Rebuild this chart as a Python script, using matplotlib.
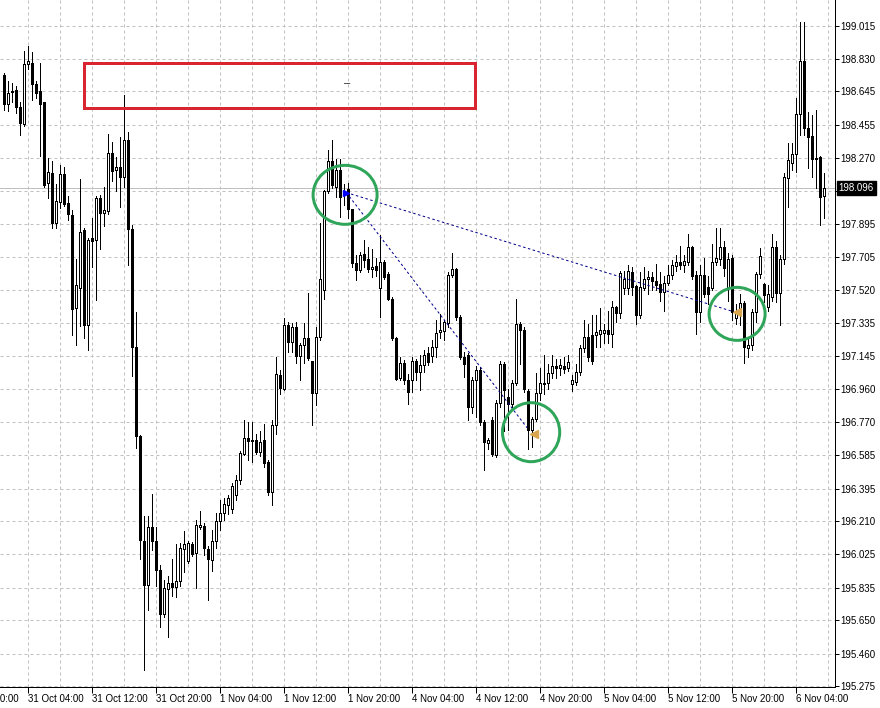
import matplotlib
matplotlib.use("Agg")
import matplotlib.pyplot as plt
import matplotlib.transforms as mtransforms
from matplotlib.patches import Ellipse, Rectangle

plt.rcParams['font.family'] = ['Liberation Sans', 'DejaVu Sans']

# ---------------- data (M30 candles, index 0 = 31 Oct 01:00) ----------------
opens = [198.737, 198.571, 198.649, 198.652, 198.557, 198.460, 198.802, 198.807, 198.684, 198.645,
         198.582, 198.124, 198.182, 197.900, 198.020, 198.175, 198.013, 197.946, 197.418, 197.534,
         197.858, 197.321, 197.812, 197.805, 198.043, 197.958, 197.967, 198.298, 198.201, 198.217,
         198.159, 198.367, 197.865, 197.199, 196.694, 196.099, 195.852, 196.176, 196.099, 195.933,
         195.683, 195.829, 195.861, 195.838, 195.875, 196.053, 195.984, 196.083, 196.030, 196.180,
         196.185, 196.053, 195.990, 196.100, 196.210, 196.260, 196.300, 196.280, 196.358, 196.446,
         196.590, 196.684, 196.673, 196.669, 196.600, 196.669, 196.546, 196.377, 196.754, 197.041,
         196.962, 197.321, 197.223, 197.308, 197.147, 197.211, 197.251, 197.117, 196.937, 197.255,
         197.520, 198.080, 198.252, 198.101, 198.199, 198.080, 198.091, 197.978, 197.671, 197.633,
         197.723, 197.693, 197.638, 197.655, 197.529, 197.676, 197.610, 197.472, 197.246, 197.024,
         197.109, 197.013, 197.009, 197.119, 197.057, 197.095, 197.161, 197.146, 197.199, 197.284,
         197.289, 197.334, 197.605, 197.637, 197.369, 197.142, 197.151, 196.859, 197.013, 197.066,
         196.774, 196.655, 196.783, 196.585, 196.881, 197.100, 196.915, 196.877, 196.995, 197.327,
         197.293, 196.949, 196.726, 196.792, 196.938, 196.987, 196.991, 197.052, 197.089, 197.081,
         197.089, 197.076, 196.987, 197.000, 197.057, 197.189, 197.255, 197.265, 197.265, 197.270,
         197.274, 197.293, 197.270, 197.425, 197.390, 197.529, 197.529, 197.623, 197.542, 197.378,
         197.534, 197.585, 197.595, 197.572, 197.553, 197.510, 197.560, 197.605, 197.655, 197.680,
         197.661, 197.680, 197.765, 197.605, 197.397, 197.605, 197.538, 197.534, 197.680, 197.693,
         197.761, 197.529, 197.699, 197.359, 197.391, 197.444, 197.189, 197.208, 197.397, 197.608,
         197.552, 197.425, 197.482, 197.761, 197.504, 197.693, 198.152, 198.241, 198.288, 198.515,
         198.817, 198.439, 198.392, 198.266, 198.271, 198.054]
highs = [198.749, 198.703, 198.691, 198.675, 198.582, 198.872, 198.899, 198.865, 198.703, 198.807,
         198.587, 198.268, 198.251, 198.119, 198.228, 198.217, 198.055, 197.974, 197.696, 198.147,
         197.870, 197.812, 197.928, 198.055, 198.060, 198.101, 198.402, 198.360, 198.274, 198.386,
         198.622, 198.413, 197.888, 197.395, 196.701, 196.238, 196.238, 196.366, 196.180, 195.961,
         195.880, 195.903, 195.995, 196.083, 196.088, 196.157, 196.099, 196.092, 196.215, 196.268,
         196.199, 196.069, 196.160, 196.260, 196.330, 196.340, 196.360, 196.430, 196.471, 196.607,
         196.782, 196.773, 196.773, 196.703, 196.720, 196.764, 196.556, 196.782, 197.141, 197.066,
         197.359, 197.340, 197.334, 197.340, 197.221, 197.334, 197.504, 197.117, 197.312, 197.897,
         198.086, 198.313, 198.369, 198.260, 198.260, 198.120, 198.124, 197.978, 197.718, 197.737,
         197.803, 197.765, 197.755, 197.700, 197.831, 197.689, 197.623, 197.482, 197.255, 197.142,
         197.123, 197.047, 197.138, 197.132, 197.151, 197.180, 197.199, 197.236, 197.350, 197.387,
         197.350, 197.623, 197.727, 197.643, 197.378, 197.170, 197.161, 197.029, 197.090, 197.085,
         196.783, 196.680, 196.800, 196.900, 197.120, 197.110, 196.960, 197.010, 197.470, 197.340,
         197.310, 196.960, 196.800, 197.050, 197.080, 197.150, 197.100, 197.150, 197.130, 197.130,
         197.140, 197.150, 197.040, 197.100, 197.210, 197.350, 197.330, 197.380, 197.380, 197.420,
         197.330, 197.400, 197.460, 197.430, 197.630, 197.630, 197.660, 197.650, 197.550, 197.620,
         197.650, 197.630, 197.620, 197.670, 197.620, 197.600, 197.660, 197.690, 197.720, 197.770,
         197.720, 197.840, 197.770, 197.630, 197.660, 197.700, 197.600, 197.780, 197.870, 197.870,
         197.800, 197.730, 197.720, 197.440, 197.500, 197.460, 197.240, 197.410, 197.620, 197.760,
         197.560, 197.550, 197.840, 197.800, 197.720, 198.180, 198.350, 198.350, 198.610, 199.040,
         199.040, 198.530, 198.510, 198.540, 198.280, 198.180]
lows = [198.541, 198.536, 198.587, 198.522, 198.397, 198.448, 198.770, 198.598, 198.605, 198.281,
        198.101, 198.043, 197.874, 197.870, 197.985, 197.997, 197.916, 197.263, 197.210, 197.314,
        197.249, 197.180, 197.650, 197.465, 197.754, 197.881, 197.951, 198.136, 198.078, 197.990,
        198.101, 197.661, 197.036, 196.625, 195.995, 195.370, 195.706, 196.046, 195.845, 195.613,
        195.667, 195.556, 195.787, 195.782, 195.845, 195.926, 195.972, 196.014, 195.833, 196.169,
        196.018, 195.764, 195.930, 196.060, 196.160, 196.220, 196.250, 196.260, 196.330, 196.424,
        196.584, 196.556, 196.546, 196.594, 196.580, 196.518, 196.358, 196.301, 196.707, 196.934,
        196.953, 197.170, 197.170, 197.104, 197.009, 197.104, 197.123, 196.754, 196.868, 197.236,
        197.472, 198.067, 198.095, 198.048, 197.935, 198.000, 197.926, 197.652, 197.576, 197.623,
        197.652, 197.623, 197.595, 197.600, 197.368, 197.585, 197.463, 197.236, 197.009, 197.009,
        196.990, 196.877, 196.943, 197.010, 196.953, 197.057, 197.095, 197.114, 197.142, 197.246,
        197.236, 197.312, 197.595, 197.350, 197.132, 197.030, 196.783, 196.821, 196.800, 196.755,
        196.500, 196.620, 196.580, 196.575, 196.860, 196.720, 196.730, 196.860, 196.980, 197.100,
        196.940, 196.620, 196.630, 196.780, 196.900, 196.930, 196.960, 197.020, 197.020, 197.040,
        197.050, 197.060, 196.950, 196.980, 197.040, 197.170, 197.120, 197.100, 197.200, 197.200,
        197.220, 197.220, 197.200, 197.340, 197.360, 197.500, 197.500, 197.490, 197.330, 197.360,
        197.520, 197.500, 197.520, 197.520, 197.460, 197.400, 197.550, 197.580, 197.630, 197.640,
        197.620, 197.660, 197.580, 197.270, 197.340, 197.480, 197.440, 197.520, 197.660, 197.660,
        197.600, 197.460, 197.350, 197.330, 197.320, 197.106, 197.140, 197.180, 197.340, 197.590,
        197.450, 197.400, 197.460, 197.450, 197.320, 197.670, 197.990, 198.200, 198.190, 198.400,
        198.400, 198.210, 198.160, 198.100, 197.890, 197.930]
closes = [198.571, 198.638, 198.640, 198.559, 198.464, 198.802, 198.814, 198.686, 198.633, 198.571,
          198.113, 198.187, 197.900, 198.025, 198.175, 198.008, 197.950, 197.414, 197.546, 197.851,
          197.321, 197.805, 197.800, 198.043, 197.955, 197.974, 198.298, 198.194, 198.217, 198.159,
          198.367, 197.865, 197.199, 196.694, 196.106, 195.852, 196.176, 196.099, 195.933, 195.683,
          195.833, 195.861, 195.840, 195.875, 196.058, 196.083, 196.088, 196.023, 196.187, 196.187,
          196.058, 195.995, 196.100, 196.210, 196.260, 196.310, 196.340, 196.410, 196.446, 196.597,
          196.684, 196.665, 196.665, 196.603, 196.660, 196.541, 196.377, 196.754, 197.047, 196.966,
          197.321, 197.223, 197.308, 197.147, 197.211, 197.251, 197.136, 196.937, 197.255, 197.580,
          198.080, 198.252, 198.114, 198.199, 198.048, 198.060, 197.978, 197.671, 197.633, 197.718,
          197.689, 197.637, 197.652, 197.633, 197.680, 197.595, 197.472, 197.246, 197.019, 197.109,
          197.009, 196.943, 197.119, 197.057, 197.095, 197.151, 197.114, 197.199, 197.278, 197.293,
          197.340, 197.605, 197.637, 197.369, 197.142, 197.100, 196.859, 197.013, 197.066, 196.774,
          196.660, 196.670, 196.594, 196.881, 197.100, 196.953, 196.877, 196.995, 197.327, 197.293,
          196.957, 196.726, 196.792, 196.938, 196.995, 196.995, 197.052, 197.089, 197.076, 197.095,
          197.070, 197.114, 197.010, 197.057, 197.189, 197.255, 197.142, 197.119, 197.284, 197.293,
          197.293, 197.270, 197.425, 197.390, 197.614, 197.580, 197.627, 197.538, 197.378, 197.538,
          197.585, 197.595, 197.572, 197.548, 197.510, 197.560, 197.605, 197.661, 197.680, 197.661,
          197.686, 197.765, 197.599, 197.397, 197.605, 197.500, 197.500, 197.680, 197.699, 197.761,
          197.642, 197.693, 197.397, 197.391, 197.444, 197.198, 197.208, 197.397, 197.608, 197.714,
          197.491, 197.497, 197.761, 197.504, 197.693, 198.162, 198.256, 198.288, 198.515, 198.817,
          198.439, 198.388, 198.262, 198.260, 198.044, 198.096]

x_tick_idx = [-10, 6, 22, 38, 54, 70, 86, 102, 118, 134, 150, 166, 182, 198]
x_tick_labels = ['30 Oct 20:00', '31 Oct 04:00', '31 Oct 12:00', '31 Oct 20:00', '1 Nov 04:00',
                 '1 Nov 12:00', '1 Nov 20:00', '4 Nov 04:00', '4 Nov 12:00', '4 Nov 20:00',
                 '5 Nov 04:00', '5 Nov 12:00', '5 Nov 20:00', '6 Nov 04:00']
vgrid_idx = list(range(6, 207, 8))
y_tick_vals = [199.015, 198.830, 198.645, 198.455, 198.270, 198.083, 197.895, 197.705, 197.520,
               197.335, 197.145, 196.960, 196.770, 196.585, 196.395, 196.210, 196.025, 195.835,
               195.650, 195.460, 195.275]
y_tick_labels = ['199.015', '198.830', '198.645', '198.455', '198.270', '', '197.895', '197.705',
                 '197.520', '197.335', '197.145', '196.960', '196.770', '196.585', '196.395',
                 '196.210', '196.025', '195.835', '195.650', '195.460', '195.275']
last_price = 198.096

# drawn objects (index / price coordinates)
rect_x0, rect_x1 = 20.2, 117.9
rect_p0, rect_p1 = 198.548, 198.808
rect_label = ('–', 85.9, 198.692)
ellipse_cx = [85.4, 131.9, 183.4]
ellipse_cy = [198.059, 196.715, 197.385]
ellipse_w = [16.0, 14.3, 14.0]
ellipse_h = [0.334, 0.334, 0.300]
arrow_pt = (85.7, 198.072)
line_ends = [(130.9, 196.740), (182.4, 197.398)]
tri_pts_x = [132.5, 183.3]
tri_pts_y = [196.706, 197.397]

# ---------------- figure ----------------
W, H = 880, 708
fig = plt.figure(figsize=(W / 100, H / 100), dpi=100)
ax_right_px, ax_bottom_px = 835, 687
ax = fig.add_axes([0, (H - ax_bottom_px) / H, ax_right_px / W, ax_bottom_px / H])
ax.set_facecolor('white')

px = 0.72  # one pixel in points
fs = 7.0
n = len(opens)
idx = list(range(n))
ax.set_xlim(-0.875, (ax_right_px - 3.5) / 4)
ax.set_ylim(195.275 - 0.5 / 176.6, 199.015 + 26 / 176.6)

# grid
grid_kw = dict(color='#c0c0c0', linewidth=px, linestyle=(0, (3, 3)), zorder=0)
for v in vgrid_idx:
    ax.axvline(v, **grid_kw)
for v in y_tick_vals:
    ax.axhline(v, **grid_kw)

# current price line
ax.axhline(last_price, color='#c0c0c0', linewidth=px, zorder=0.5)

# candles
ax.vlines(idx, lows, highs, colors='black', linewidth=px, zorder=2, antialiased=False)
bottoms = [min(o, c) for o, c in zip(opens, closes)]
heights = [abs(c - o) for o, c in zip(opens, closes)]
faces = ['white' if c >= o else 'black' for o, c in zip(opens, closes)]
ax.bar(idx, heights, bottom=bottoms, width=0.5, color=faces, edgecolor='black',
       linewidth=px, zorder=3, antialiased=False)

# rectangle
ax.add_patch(Rectangle((rect_x0, rect_p0), rect_x1 - rect_x0, rect_p1 - rect_p0, fill=False,
                       edgecolor='#d9252f', linewidth=3 * px, zorder=4))
ax.text(rect_label[1], rect_label[2], rect_label[0], ha='center', va='center', fontsize=8,
        color='#202020', zorder=5)

# dotted lines
for ex, ey in line_ends:
    ax.plot([arrow_pt[0], ex], [arrow_pt[1], ey], color='#00008b', linewidth=px,
            linestyle=(0, (2.5, 2.5)), zorder=4)
# ellipses
for cx, cy, w, h in zip(ellipse_cx, ellipse_cy, ellipse_w, ellipse_h):
    ax.add_patch(Ellipse((cx, cy), w, h, fill=False, edgecolor='#2fa55a',
                         linewidth=3 * px, zorder=5))
ax.plot([arrow_pt[0]], [arrow_pt[1]], marker='>', color='#0000ff', markersize=4.5,
        linestyle='none', zorder=6)
ax.plot(tri_pts_x, tri_pts_y, marker='<', color='#d8a64e', markersize=5.5,
        linestyle='none', zorder=6)

# axes styling
for s in ['top', 'left']:
    ax.spines[s].set_visible(False)
for s in ['right', 'bottom']:
    ax.spines[s].set_color('black')
    ax.spines[s].set_linewidth(px)

ax.yaxis.tick_right()
ax.set_yticks(y_tick_vals)
ax.set_yticklabels(y_tick_labels)
ax.tick_params(axis='y', direction='out', length=4 * px, width=px, pad=1.2, labelsize=fs,
               colors='black')

vis_ticks = [t for t in x_tick_idx if t >= 0]
vis_labels = [l for t, l in zip(x_tick_idx, x_tick_labels) if t >= 0]
ax.set_xticks(vis_ticks)
ax.set_xticklabels(vis_labels)
ax.tick_params(axis='x', direction='out', length=6 * px, width=px, pad=1.0, labelsize=fs,
               colors='black')
for lab in ax.get_xticklabels():
    lab.set_horizontalalignment('left')

# label at the far left, partly outside the picture as in the reference
trans_xb = mtransforms.blended_transform_factory(ax.transData, ax.transAxes)
for t, l in zip(x_tick_idx, x_tick_labels):
    if t < 0:
        ax.text(t, -7.5 / ax_bottom_px, l, transform=trans_xb, ha='left', va='top',
                fontsize=fs, clip_on=False)

# last price label
trans_yr = mtransforms.blended_transform_factory(ax.transAxes, ax.transData)
ax.text(1.0 + 3.5 / ax_right_px, last_price, '198.096', transform=trans_yr, ha='left',
        va='center', fontsize=fs, color='white', clip_on=False, zorder=10,
        bbox=dict(boxstyle='square,pad=0.2', facecolor='black', edgecolor='black'))

fig.savefig('out.png', dpi=100, facecolor='white')
